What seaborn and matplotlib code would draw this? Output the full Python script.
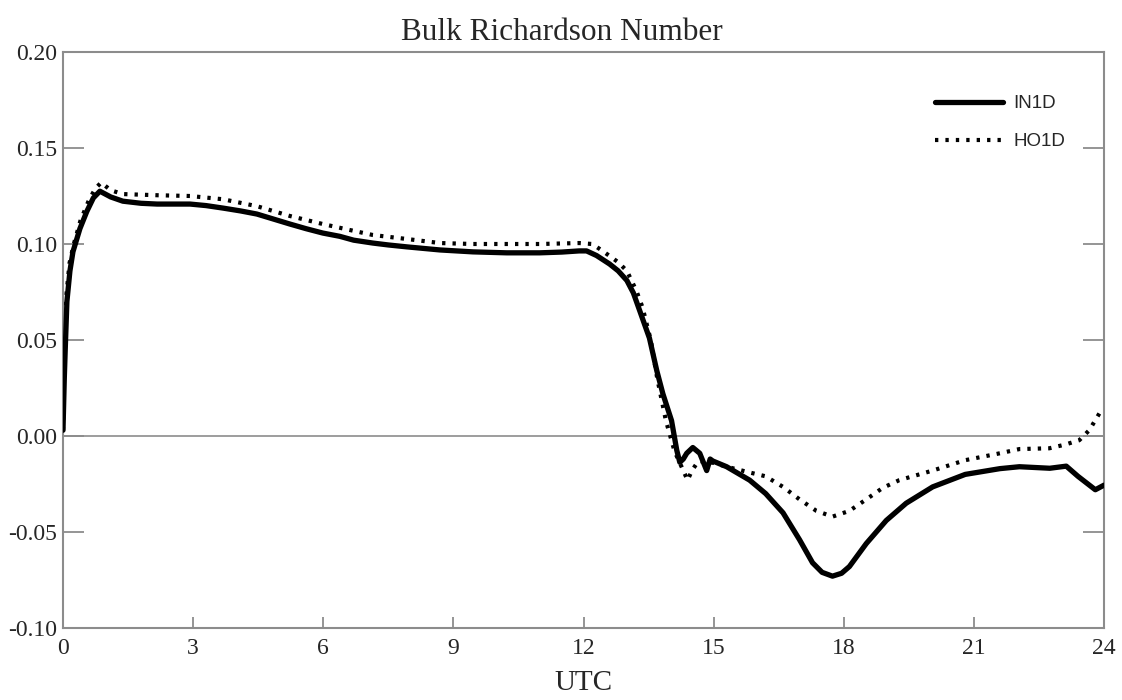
import numpy as np
import pandas as pd
import matplotlib
matplotlib.use("Agg")
import matplotlib.pyplot as plt
import seaborn as sns
from matplotlib import font_manager
from matplotlib.ticker import FormatStrFormatter

# ---------------- data ----------------
title = "Bulk Richardson Number"
xlabel = "UTC"
series_names = ["IN1D", "HO1D"]
xticks = [0, 3, 6, 9, 12, 15, 18, 21, 24]
yticks = [-0.10, -0.05, 0.00, 0.05, 0.10, 0.15, 0.20]

in1d_t = [0.0, 0.03, 0.05, 0.09, 0.16, 0.23, 0.31, 0.39, 0.55, 0.70, 0.85, 1.1, 1.38,
          1.8, 2.17, 2.93, 3.3, 3.69, 4.1, 4.47, 4.85, 5.23, 5.6, 5.99, 6.38, 6.7,
          7.14, 7.5, 7.93, 8.69, 9.45, 10.23, 10.99, 11.5, 11.9, 12.07, 12.3, 12.6,
          12.8, 13.0, 13.15, 13.3, 13.52, 13.69, 13.83, 14.03, 14.15, 14.22, 14.3,
          14.38, 14.52, 14.68, 14.84, 14.92, 14.98, 15.3, 15.83, 16.2, 16.6, 16.98,
          17.28, 17.5, 17.74, 17.95, 18.13, 18.52, 18.98, 19.44, 20.05, 20.8, 21.6,
          22.05, 22.75, 23.13, 23.4, 23.8, 24.0]
in1d_v = [0.003, 0.030, 0.044, 0.070, 0.086, 0.096, 0.102, 0.108, 0.117, 0.124,
          0.1275, 0.1245, 0.1223, 0.1212, 0.1208, 0.1208, 0.120, 0.1187, 0.1172,
          0.1156, 0.113, 0.1104, 0.108, 0.1057, 0.104, 0.102, 0.1005, 0.0995, 0.0985,
          0.0969, 0.0959, 0.0954, 0.0954, 0.0958, 0.0964, 0.0964, 0.094, 0.0896,
          0.0860, 0.0810, 0.0745, 0.065, 0.051, 0.034, 0.022, 0.008, -0.0074,
          -0.0137, -0.012, -0.009, -0.006, -0.009, -0.018, -0.012, -0.013, -0.016,
          -0.023, -0.030, -0.040, -0.054, -0.066, -0.071, -0.073, -0.0715, -0.068,
          -0.056, -0.044, -0.035, -0.0265, -0.020, -0.017, -0.016, -0.0168, -0.0157,
          -0.021, -0.028, -0.0256]

ho1d_t = [0.0, 0.04, 0.08, 0.15, 0.25, 0.4, 0.6, 0.75, 0.88, 1.1, 1.38, 2.17, 2.93,
          3.69, 4.47, 5.23, 5.99, 6.61, 7.14, 7.93, 8.69, 9.45, 10.23, 10.99, 11.9,
          12.2, 12.4, 12.6, 12.8, 13.0, 13.22, 13.36, 13.55, 13.7, 13.9, 14.1, 14.3,
          14.4, 14.5, 14.65, 15.0, 15.3, 15.83, 16.2, 16.6, 16.98, 17.37, 17.74,
          18.13, 18.52, 18.9, 19.28, 20.05, 20.8, 21.6, 22.05, 22.74, 23.1, 23.43,
          23.66, 23.9, 24.0]
ho1d_v = [0.003, 0.050, 0.074, 0.090, 0.100, 0.112, 0.123, 0.129, 0.132, 0.128,
          0.126, 0.1254, 0.125, 0.1233, 0.1197, 0.1146, 0.1104, 0.1073, 0.1047,
          0.1026, 0.1005, 0.100, 0.100, 0.100, 0.1005, 0.100, 0.097, 0.0938, 0.0905,
          0.086, 0.0756, 0.067, 0.050, 0.030, 0.008, -0.008, -0.018, -0.023, -0.018,
          -0.013, -0.014, -0.016, -0.019, -0.021, -0.0265, -0.033, -0.039, -0.042,
          -0.039, -0.033, -0.027, -0.023, -0.018, -0.0126, -0.009, -0.0068, -0.0064,
          -0.0045, -0.0022, 0.003, 0.012, 0.013]

# ---------------- style ----------------
sns.set_style("ticks")
plt.rcParams["font.family"] = ["Liberation Serif", "DejaVu Serif"]
plt.rcParams["axes.unicode_minus"] = False

avail = {f.name for f in font_manager.fontManager.ttflist}
if "Liberation Sans Narrow" in avail:
    leg_family, leg_size = "Liberation Sans Narrow", 15.5
else:
    leg_family, leg_size = "Liberation Sans", 13.5

spine_col = "#8c8c8c"

fig = plt.figure(figsize=(11.22, 7.0), dpi=100)
ax = fig.add_axes([63 / 1122, 72 / 700, (1104 - 63) / 1122, (648 - 72) / 700])

df1 = pd.DataFrame({"t": in1d_t, "v": in1d_v})
df2 = pd.DataFrame({"t": ho1d_t, "v": ho1d_v})

ax.axhline(0, color=spine_col, lw=1.2, zorder=1)
sns.lineplot(data=df1, x="t", y="v", ax=ax, color="black", lw=3.8,
             label=series_names[0], sort=False, zorder=3)
sns.lineplot(data=df2, x="t", y="v", ax=ax, color="black", lw=3.0,
             label=series_names[1], sort=False, zorder=2)
ax.lines[-1].set_dashes((0.8, 1.7))
ax.lines[-1].set_dash_capstyle("butt")
ax.lines[1].set_solid_joinstyle("round")

ax.set_xlim(0, 24)
ax.set_ylim(-0.10, 0.20)
ax.set_xticks(xticks)
ax.set_yticks(yticks)
ax.yaxis.set_major_formatter(FormatStrFormatter("%.2f"))

for s in ax.spines.values():
    s.set_visible(True)
    s.set_color(spine_col)
    s.set_linewidth(1.5)

ax.tick_params(axis="y", direction="in", length=15, width=1.3, color=spine_col,
               left=True, right=True, labelsize=17, pad=4)
ax.tick_params(axis="x", direction="in", length=8, width=1.3, color=spine_col,
               bottom=True, top=False, labelsize=17, pad=7)

ax.set_xlabel(xlabel, fontsize=21, labelpad=8)
ax.set_ylabel("")
ax.set_title(title, fontsize=22.5, x=0.479, pad=9)

leg = ax.legend(loc="upper left", bbox_to_anchor=(926 / 1122, (700 - 86) / 700),
                bbox_transform=fig.transFigure, frameon=False, borderpad=0,
                handlelength=3.6, handletextpad=0.55, labelspacing=1.1,
                prop={"family": leg_family, "size": leg_size})

fig.savefig("out.png", dpi=100)
